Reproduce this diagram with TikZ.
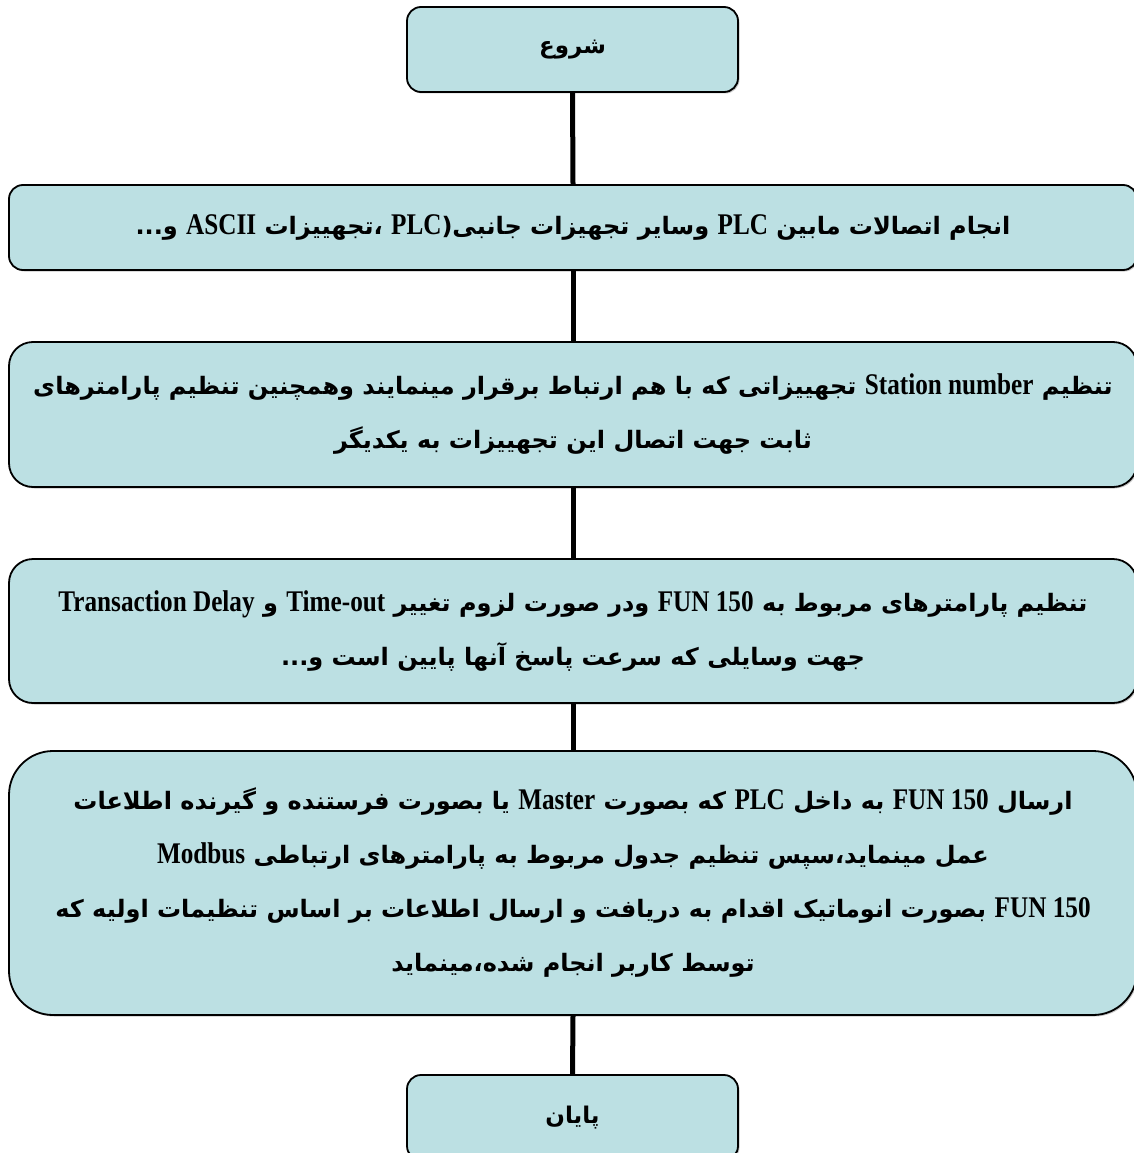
\documentclass[tikz,border=0pt]{standalone}
\usepackage{fontspec}
\usetikzlibrary{shadows}
\setmainfont{Liberation Serif}
\newfontfamily\fafont[Script=Arabic]{DejaVu Sans}
\newfontfamily\enfont[FakeStretch=0.84]{Liberation Serif Bold}
\TeXXeTstate=1
\definecolor{boxfill}{RGB}{188,224,227}
\newcommand{\en}[1]{\beginL{\enfont\fontsize{30}{54}\selectfont #1}\endL}
\newcommand{\fa}[1]{\beginR #1\endR}

\begin{document}
\begin{tikzpicture}[x=1pt, y=1pt,
    flowbox/.style={draw, line width=1.8pt, fill=boxfill, align=center,
        drop shadow={shadow xshift=1.5pt, shadow yshift=-1.5pt, fill=black!45},
        font=\fafont\bfseries\fontsize{24}{54}\selectfont},
    widebox/.style={flowbox, minimum width=1128pt},
    termbox/.style={flowbox, minimum width=331pt, minimum height=85pt, rounded corners=14pt,
        font=\fafont\bfseries\fontsize{23}{30}\selectfont},
    wire/.style={line width=5pt}]
    \useasboundingbox (0,0) rectangle (1134,-1153);
    % Boxes of the flow:
    \node[termbox] (start) at (572.5,-49.5) {\fa{شروع}};
    \node[widebox, minimum height=85pt, rounded corners=14pt] (connect) at (573,-227.5)
        {\fa{انجام اتصالات مابین \en{PLC} وسایر تجهیزات جانبی(\en{PLC} ،تجهییزات \en{ASCII} و...}};
    \node[widebox, minimum height=145pt, rounded corners=24pt] (station) at (573,-414.5)
        {\fa{تنظیم \en{Station number} تجهییزاتی که با هم ارتباط برقرار مینمایند وهمچنین تنظیم پارامترهای}\\
         \fa{ثابت جهت اتصال این تجهییزات به یکدیگر}};
    \node[widebox, minimum height=144pt, rounded corners=24pt] (params) at (573,-631)
        {\fa{تنظیم پارامترهای مربوط به \en{FUN 150} ودر صورت لزوم تغییر \en{Time-out} و \en{Transaction Delay}}\\
         \fa{جهت وسایلی که  سرعت پاسخ آنها پایین است و...}};
    \node[widebox, minimum height=264pt, rounded corners=44pt] (send) at (573,-883)
        {\fa{ارسال \en{FUN 150} به داخل \en{PLC} که بصورت \en{Master} یا بصورت فرستنده و گیرنده اطلاعات}\\
         \fa{عمل مینماید،سپس تنظیم جدول مربوط به پارامترهای ارتباطی \en{Modbus}}\\
         \fa{\en{FUN 150} بصورت انوماتیک اقدام به دریافت و ارسال اطلاعات بر اساس تنظیمات اولیه که}\\
         \fa{توسط کاربر انجام شده،مینماید}};
    \node[termbox] (stop) at (572.5,-1117.5) {\fa{پایان}};
    % Wires:
    \draw[wire] (start.south) -- (connect.north);
    \draw[wire] (connect.south) -- (station.north);
    \draw[wire] (station.south) -- (params.north);
    \draw[wire] (params.south) -- (send.north);
    \draw[wire] (send.south) -- (stop.north);
\end{tikzpicture}
\end{document}
